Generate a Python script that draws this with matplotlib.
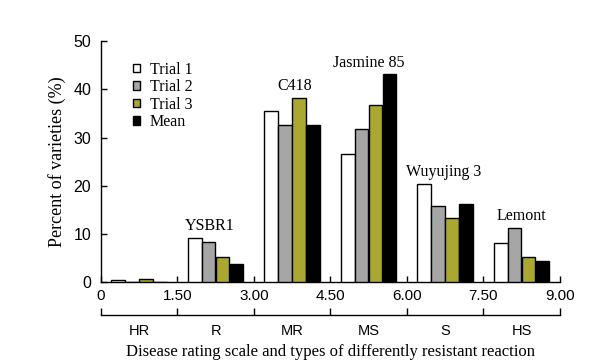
import matplotlib
matplotlib.use("Agg")
import matplotlib.pyplot as plt
import numpy as np

categories = ["HR", "R", "MR", "MS", "S", "HS"]
group_starts = [0, 1.5, 3.0, 4.5, 6.0, 7.5]
series_names = ["Trial 1", "Trial 2", "Trial 3", "Mean"]
trial1 = [0.4, 9.2, 35.6, 26.6, 20.4, 8.1]
trial2 = [0.0, 8.4, 32.7, 31.7, 15.8, 11.3]
trial3 = [0.7, 5.3, 38.3, 36.7, 13.3, 5.2]
mean = [0.0, 3.8, 32.7, 43.1, 16.3, 4.4]
colors = ["white", "#a6a6a6", "#aaa832", "black"]
x_ticks = [0, 1.5, 3.0, 4.5, 6.0, 7.5, 9.0]
x_tick_labels = ["0", "1.50", "3.00", "4.50", "6.00", "7.50", "9.00"]
y_ticks = [0, 10, 20, 30, 40, 50]
variety_labels = ["YSBR1", "C418", "Jasmine 85", "Wuyujing 3", "Lemont"]
variety_x = [2.13, 3.79, 5.25, 6.71, 8.24]
variety_group = [1, 2, 3, 4, 5]

serif = "Liberation Serif"
sans = "Liberation Sans"

fig = plt.figure(figsize=(6.11, 3.64), dpi=100)
ax = fig.add_axes([0.1653, 0.225, 0.7512, 0.662])

series = [trial1, trial2, trial3, mean]
step = 0.273
width = 0.27
starts = np.array(group_starts)
for i, (vals, c, name) in enumerate(zip(series, colors, series_names)):
    xs = starts + 0.2 + step / 2 + i * step
    ax.bar(xs, vals, width=width, color=c, edgecolor="black", linewidth=1.0,
           label=name, zorder=3)

for lab, lx, g in zip(variety_labels, variety_x, variety_group):
    top = max(s[g] for s in series)
    ax.text(lx, top + 0.7, lab, ha="center", va="bottom", family=serif, fontsize=11.5)

ax.set_xlim(0, 9)
ax.set_ylim(0, 50)
ax.set_xticks(x_ticks)
ax.set_xticklabels(x_tick_labels, family=sans, fontsize=11)
ax.set_yticks(y_ticks)
ax.set_yticklabels([str(v) for v in y_ticks], family=sans, fontsize=11.5)
ax.tick_params(axis="both", direction="in", length=4, width=1)
ax.tick_params(axis="y", pad=7)
ax.tick_params(axis="x", pad=5)
for s in ["top", "right"]:
    ax.spines[s].set_visible(False)
for s in ["left", "bottom"]:
    ax.spines[s].set_linewidth(1.0)
ax.set_ylabel("Percent of varieties (%)", family=serif, fontsize=13, labelpad=5)

leg = ax.legend(loc="upper left", bbox_to_anchor=(0.07, 0.915), frameon=False,
                prop={"family": serif, "size": 11.5}, handlelength=0.45,
                handleheight=0.45, handletextpad=0.6, labelspacing=0.1,
                borderaxespad=0, borderpad=0)

sec = ax.secondary_xaxis(-0.135)
sec.set_xticks(x_ticks)
sec.set_xticklabels([""] * len(x_ticks))
sec.tick_params(axis="x", which="major", direction="in", length=5, width=1)
sec.set_xticks([g + 0.75 for g in group_starts], minor=True)
sec.set_xticklabels(categories, minor=True, family=sans, fontsize=10.5)
sec.tick_params(axis="x", which="minor", length=0, pad=7)
sec.spines["bottom"].set_linewidth(1.0)
sec.set_xlabel("Disease rating scale and types of differently resistant reaction",
               family=serif, fontsize=12, labelpad=4)

fig.savefig("out.png", dpi=100)
